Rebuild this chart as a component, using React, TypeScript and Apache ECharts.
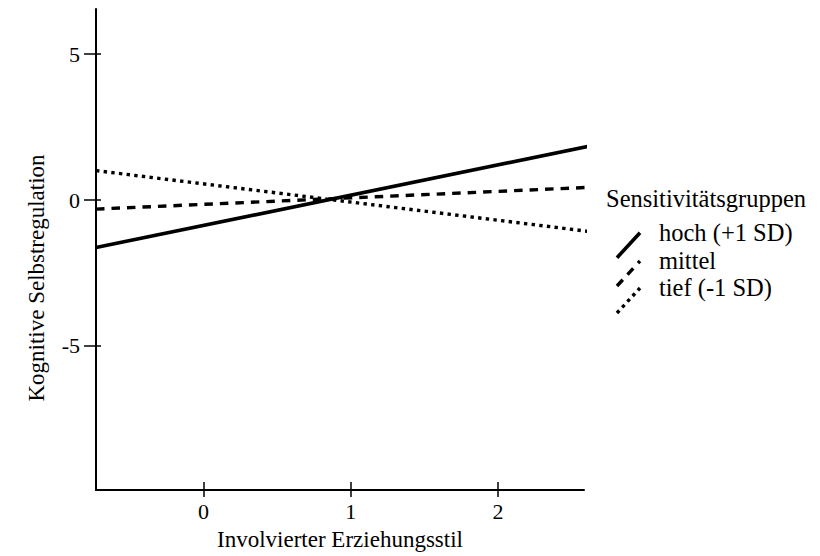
import React, { useEffect, useRef } from "react";
import * as echarts from "echarts";

const xEnds = [-0.73, 2.64];
const hoch = [-1.63, 1.87];
const mittel = [-0.31, 0.44];
const tief = [1.01, -1.09];
const xTicks = [0, 1, 2];
const yTicks = [-5, 0, 5];
const seriesNames = ["hoch (+1 SD)", "mittel", "tief (-1 SD)"];
const legendTitle = "Sensitivitätsgruppen";
const xTitle = "Involvierter Erziehungsstil";
const yTitle = "Kognitive Selbstregulation";

const FONT = "'Liberation Serif', 'Times New Roman', Times, serif";
const X_MIN = -0.73;
const X_MAX = 2.585;
const Y_MIN = -9.94;
const Y_MAX = 6.55;

export default function App() {
  const ref = useRef<HTMLDivElement>(null);
  useEffect(() => {
    if (!ref.current) return;
    const chart = echarts.init(ref.current, null, { renderer: "svg" });
    const values = [hoch, mittel, tief];
    const dashes: (number[] | "solid")[] = ["solid", [8.5, 7], [3.4, 4.3]];
    const widths = [3.6, 3.4, 3.4];
    const series = values.map((v, i) => ({
      name: seriesNames[i],
      type: "line",
      data: xEnds.map((x, j) => [x, v[j]]),
      showSymbol: false,
      symbol: "none",
      clip: false,
      lineStyle: { color: "#000", width: widths[i], type: dashes[i], cap: "butt" },
    }));
    const legendBase = [244.7, 273, 300];
    const graphics: any[] = [
      {
        type: "text",
        x: 36,
        y: 278,
        rotation: Math.PI / 2,
        style: {
          text: yTitle,
          fontFamily: FONT,
          fontSize: 23,
          fill: "#000",
          textAlign: "center",
          textVerticalAlign: "middle",
        },
      },
      {
        type: "text",
        x: 606,
        y: 210.7,
        style: {
          text: legendTitle,
          fontFamily: FONT,
          fontSize: 24.5,
          fill: "#000",
          textAlign: "left",
          textVerticalAlign: "bottom",
        },
      },
    ];
    legendBase.forEach((b, i) => {
      graphics.push({
        type: "line",
        shape: { x1: 617, y1: b + 13, x2: 640, y2: b - 12 },
        style: {
          stroke: "#000",
          lineWidth: widths[i],
          lineDash: dashes[i] === "solid" ? null : dashes[i],
          lineCap: "butt",
        },
      });
      graphics.push({
        type: "text",
        x: 659,
        y: b,
        style: {
          text: seriesNames[i],
          fontFamily: FONT,
          fontSize: 24.5,
          fill: "#000",
          textAlign: "left",
          textVerticalAlign: "bottom",
        },
      });
    });
    chart.setOption({
      animation: false,
      backgroundColor: "#fff",
      grid: { left: 96, top: 9, right: 236, bottom: 61, containLabel: false },
      xAxis: [
        {
          type: "value",
          min: X_MIN,
          max: X_MAX,
          position: "bottom",
          name: xTitle,
          nameLocation: "middle",
          nameGap: 38,
          nameTextStyle: { fontFamily: FONT, fontSize: 23, color: "#000" },
          axisLine: { show: true, onZero: false, lineStyle: { color: "#000", width: 2 } },
          axisTick: { show: true, inside: false, length: 7, customValues: xTicks, lineStyle: { color: "#000", width: 1.5 } },
          axisLabel: { show: true, customValues: xTicks, margin: 10, fontFamily: FONT, fontSize: 22, color: "#000" },
          splitLine: { show: false },
        },
        {
          type: "value",
          min: X_MIN,
          max: X_MAX,
          position: "bottom",
          axisLine: { show: false, onZero: false },
          axisTick: { show: true, inside: true, length: 8, customValues: xTicks, lineStyle: { color: "#000", width: 1.5 } },
          axisLabel: { show: false },
          splitLine: { show: false },
        },
      ],
      yAxis: [
        {
          type: "value",
          min: Y_MIN,
          max: Y_MAX,
          position: "left",
          axisLine: { show: true, onZero: false, lineStyle: { color: "#000", width: 2 } },
          axisTick: { show: true, inside: false, length: 12, customValues: yTicks, lineStyle: { color: "#000", width: 1.5 } },
          axisLabel: { show: true, customValues: yTicks, margin: 16, fontFamily: FONT, fontSize: 22, color: "#000" },
          splitLine: { show: false },
        },
        {
          type: "value",
          min: Y_MIN,
          max: Y_MAX,
          position: "left",
          offset: 0,
          axisLine: { show: false, onZero: false },
          axisTick: { show: true, inside: true, length: 5, customValues: yTicks, lineStyle: { color: "#000", width: 1.5 } },
          axisLabel: { show: false },
          splitLine: { show: false },
        },
      ],
      series,
      graphic: graphics,
    });
    return () => chart.dispose();
  }, []);
  return (
    <div
      ref={ref}
      style={{ position: "fixed", left: 0, top: 0, width: 820, height: 556 }}
    />
  );
}
